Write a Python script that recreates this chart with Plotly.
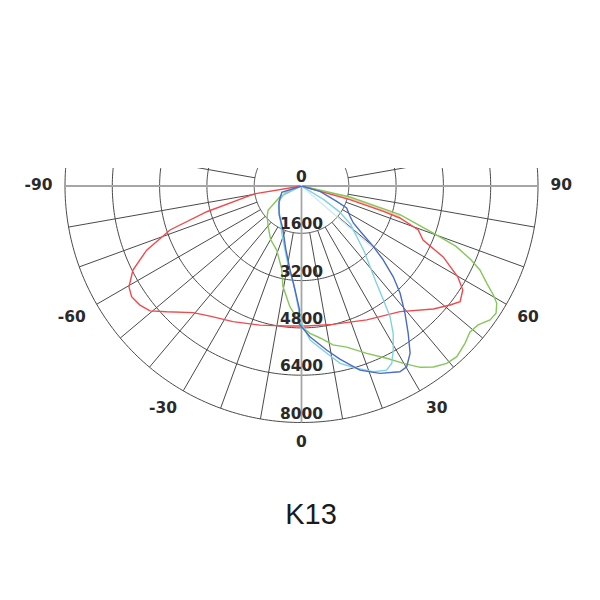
import math
import plotly.graph_objects as go

# ---------------- data ----------------
RING_VALUES = [1600, 3200, 4800, 6400, 8000]
RADIAL_TICK_VALUES = [0, 1600, 3200, 4800, 6400, 8000]
RADIAL_TICK_LABELS = ["0", "1600", "3200", "4800", "6400", "8000"]
ANGLE_TICK_VALUES = [-90, -60, -30, 0, 30, 60, 90]
ANGLE_TICK_LABELS = ["-90", "-60", "-30", "0", "30", "60", "90"]
TITLE = "K13"

RED_THETA = [-90, -80.5, -74.8, -71.5, -67.5, -63.5, -59.7, -56.9, -53.6, -50.5, -47.0,
             -40.6, -35.1, -26.8, -16.6, -6.0, 2.1, 12.8, 26.0, 38.1, 47.0, 51.3, 53.9,
             57.2, 59.8, 63.4, 66.0, 69.4, 72.0, 72.8, 74.2, 90]
RED_R = [0, 1620, 3320, 4690, 5670, 6370, 6760, 6860, 6790, 6640, 6240,
         5640, 5380, 5140, 4910, 4760, 4740, 4800, 5040, 5400, 6100, 6440, 6640,
         6490, 6120, 5360, 4500, 4220, 3500, 2900, 1700, 0]

GREEN_THETA = [-90, -63.5, -54.0, -48.1, -39.2, -30.0, -21.0, -13.3, -10.5, -5.5, -2.0,
               0.2, 3.3, 7.0, 11.2, 15.7, 21.3, 26.3, 29.9, 33.2, 36.1, 39.3, 42.3,
               46.1, 49.1, 51.8, 54.6, 56.8, 59.0, 60.4, 62.3, 64.8, 66.5, 68.7, 70.5,
               73.8, 77.2, 90]
GREEN_R = [0, 810, 1400, 1560, 1780, 2090, 2330, 2900, 3450, 4100, 4470,
           4770, 4990, 5180, 5480, 5660, 6075, 6500, 6920, 7330, 7575, 7755, 7805,
           7675, 7540, 7600, 7825, 7865, 7705, 7465, 7080, 6670, 6250, 5600, 4650,
           3470, 1680, 0]

BLUE_THETA = [-90, -72, -55, -38, -24, -14, -7.8, -3.6, -0.9, -1.2, 3.2, 8.7, 12.5,
              17.6, 22.7, 27.9, 30.2, 33.0, 35.9, 39.1, 42.6, 45.3, 48.0, 50.0, 52.0,
              54.5, 58.0, 64.0, 66.5, 74.0, 90]
BLUE_R = [0, 700, 930, 1230, 1560, 2200, 2860, 3515, 4185, 4646, 5106, 5613, 6000,
          6533, 6871, 7111, 7074, 6746, 6155, 5551, 4929, 4366, 3690, 3140, 2584,
          2154, 1935, 1700, 1299, 651, 0]

CYAN_THETA = [-90, -67, -57.5, -48.8, -35.4, -22.8, -14.5, -9.3, -4.8, -2.4, -0.7, 0.7,
              3.2, 8.6, 12.3, 16.8, 21.1, 24.8, 27.0, 29.2, 31.9, 34.1, 35.7, 37.9,
              40.4, 43.8, 47.5, 52.1, 55.8, 58.5, 90]
CYAN_R = [0, 610, 860, 1040, 1260, 1725, 2230, 2750, 3290, 3850, 4410, 4750,
          5220, 5720, 6140, 6440, 6735, 6860, 6730, 6360, 5870, 5340, 4750, 4090,
          3575, 3060, 2530, 2100, 1540, 900, 0]

PALE_BLUE_THETA = [49.1, 49.1]
PALE_BLUE_R = [0, 3200]

PEACH_THETA = [75.5, 75.5, 73.0]
PEACH_R = [0, 1700, 3490]

# ---------------- styling / layout constants ----------------
W = H = 600
PAGE_OFFSET = 8                      # default body margin of the html page
CX, CY = 301.5 - PAGE_OFFSET, 186.0 - PAGE_OFFSET   # centre in figure px
RPX = 236.5                          # px for the outer ring (8000)
RMAX = RING_VALUES[-1]
R_EXT = 9000                         # radial range extends past the outer ring for labels
RPX_EXT = RPX * R_EXT / RMAX
SECTOR = [155, 385]
TOP_CLIP_PX = 168 - PAGE_OFFSET
GRID_COLOR = "#4a4a4a"
AXIS_COLOR = "#a6a6a6"
TEXT_COLOR = "#2a2a2a"
LABEL_FONT = dict(family="DejaVu Sans", size=15.5, color=TEXT_COLOR, weight="bold")

sin_top = math.sin(math.radians(SECTOR[1] - 360))
dom_x = [(CX - RPX_EXT) / W, (CX + RPX_EXT) / W]
dom_y = [1 - (CY + RPX_EXT) / H, 1 - (CY - RPX_EXT * sin_top) / H]

fig = go.Figure()

# rings
ring_theta = list(range(-115, 116))
ring_t, ring_r = [], []
for rv in RING_VALUES:
    ring_t += ring_theta + [None]
    ring_r += [rv] * len(ring_theta) + [None]
fig.add_trace(go.Scatterpolar(theta=ring_t, r=ring_r, mode="lines",
                              line=dict(color=GRID_COLOR, width=1),
                              hoverinfo="skip", showlegend=False))

# spokes (every 10 degrees, starting at the first ring)
sp_t, sp_r = [], []
for a in range(-100, 101, 10):
    if a in (-90, 0, 90):
        continue
    sp_t += [a, a, None]
    sp_r += [RING_VALUES[0], RMAX, None]
fig.add_trace(go.Scatterpolar(theta=sp_t, r=sp_r, mode="lines",
                              line=dict(color=GRID_COLOR, width=1),
                              hoverinfo="skip", showlegend=False))

# main axes (horizontal -90..90 and vertical 0)
fig.add_trace(go.Scatterpolar(theta=[-90, -90, 90, 90, None, 0, 0],
                              r=[RMAX, 0, 0, RMAX, None, 0, RMAX], mode="lines",
                              line=dict(color=AXIS_COLOR, width=1.8),
                              hoverinfo="skip", showlegend=False))

# curves
curves = [
    (PEACH_THETA, PEACH_R, "#f7cdb3", 1.6),
    (PALE_BLUE_THETA, PALE_BLUE_R, "#d3e8f3", 1.4),
    (RED_THETA, RED_R, "#f24a4c", 1.4),
    (GREEN_THETA, GREEN_R, "#86c75a", 1.4),
    (CYAN_THETA, CYAN_R, "#80d2e2", 1.4),
    (BLUE_THETA, BLUE_R, "#4a6cc3", 1.4),
]
for th, rr, col, w in curves:
    fig.add_trace(go.Scatterpolar(theta=th, r=rr, mode="lines",
                                  line=dict(color=col, width=w),
                                  hoverinfo="skip", showlegend=False))

# radial tick labels along the 0 axis
fig.add_trace(go.Scatterpolar(theta=[0] * len(RADIAL_TICK_VALUES), r=RADIAL_TICK_VALUES,
                              mode="text", text=RADIAL_TICK_LABELS,
                              textposition="top center", textfont=LABEL_FONT,
                              cliponaxis=False, hoverinfo="skip", showlegend=False))

# angular tick labels
label_r = RMAX * 249 / RPX
pos = []
for a in ANGLE_TICK_VALUES:
    v = "middle" if abs(a) == 90 else "bottom"
    h = "left" if a < 0 else ("right" if a > 0 else "center")
    pos.append(f"{v} {h}")
fig.add_trace(go.Scatterpolar(theta=ANGLE_TICK_VALUES, r=[label_r] * len(ANGLE_TICK_VALUES),
                              mode="text", text=ANGLE_TICK_LABELS, textposition=pos,
                              textfont=LABEL_FONT, cliponaxis=False,
                              hoverinfo="skip", showlegend=False))

fig.update_layout(
    width=W, height=H,
    margin=dict(l=0, r=0, t=0, b=0),
    paper_bgcolor="white",
    showlegend=False,
    polar=dict(
        domain=dict(x=dom_x, y=dom_y),
        sector=SECTOR,
        bgcolor="white",
        radialaxis=dict(range=[0, R_EXT], visible=False),
        angularaxis=dict(rotation=-90, direction="counterclockwise", visible=False),
    ),
    title=dict(text=TITLE, x=(311 - PAGE_OFFSET) / W, xanchor="center",
               y=1 - (513.5 - PAGE_OFFSET) / H, yanchor="middle", yref="container",
               font=dict(family="Liberation Sans", size=29, color="#1a1a1a")),
    shapes=[dict(type="rect", xref="paper", yref="paper", x0=0, x1=1,
                 y0=1 - TOP_CLIP_PX / H, y1=1.0, fillcolor="white",
                 line=dict(width=0), layer="above")],
)

fig.write_html("out.html")
